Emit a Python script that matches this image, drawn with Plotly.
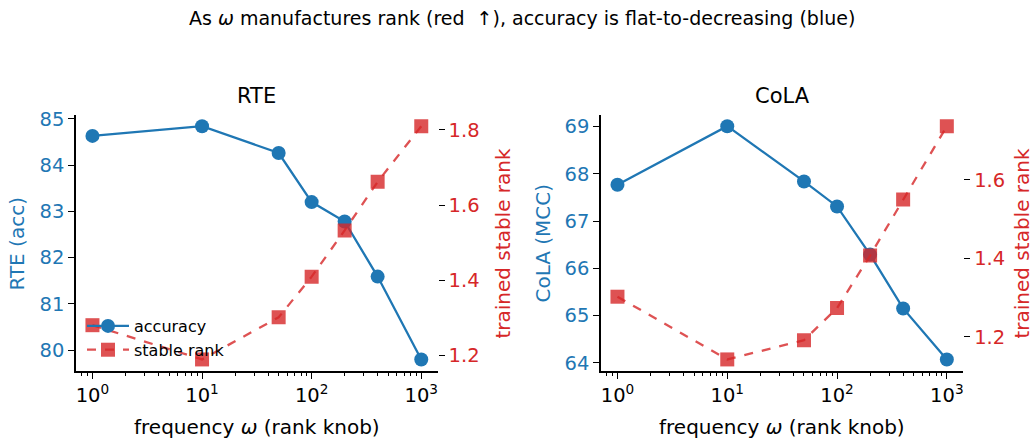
import plotly.graph_objects as go

freq = [1, 10, 50, 100, 200, 400, 1000]
rte_acc = [84.63, 84.84, 84.26, 83.20, 82.78, 81.59, 79.80]
rte_rank = [1.281, 1.190, 1.302, 1.410, 1.533, 1.662, 1.810]
cola_mcc = [67.77, 69.01, 67.84, 67.31, 66.29, 65.15, 64.07]
cola_rank = [1.302, 1.142, 1.191, 1.273, 1.407, 1.550, 1.737]

x_tickvals = [1, 10, 100, 1000]
x_ticktext = ["10<sup>0</sup>", "10<sup>1</sup>", "10<sup>2</sup>", "10<sup>3</sup>"]
rte_ticks = [80, 81, 82, 83, 84, 85]
cola_ticks = [64, 65, 66, 67, 68, 69]
rte_rank_ticks = [1.2, 1.4, 1.6, 1.8]
cola_rank_ticks = [1.2, 1.4, 1.6]

BLUE = "#1f77b4"
RED = "rgba(214,39,40,0.8)"
RED_TXT = "#d62728"
FONT = "DejaVu Sans"
W, H = 1035, 443
TICK = 19.5

def pad(vals, frac=0.05):
    lo, hi = min(vals), max(vals)
    d = (hi - lo) * frac
    return [lo - d, hi + d]

fig = go.Figure()

panels = [
    dict(acc=rte_acc, rank=rte_rank, xa="x", ya="y", ya2="y2", show=True),
    dict(acc=cola_mcc, rank=cola_rank, xa="x2", ya="y3", ya2="y4", show=False),
]
for p in panels:
    fig.add_trace(go.Scatter(x=freq, y=p["acc"], xaxis=p["xa"], yaxis=p["ya"],
                             mode="lines+markers", name="accuracy", showlegend=p["show"],
                             line=dict(color=BLUE, width=2.3),
                             marker=dict(symbol="circle", size=14, color=BLUE)))
    fig.add_trace(go.Scatter(x=freq, y=p["rank"], xaxis=p["xa"], yaxis=p["ya2"],
                             mode="lines+markers", name="stable rank", showlegend=p["show"],
                             line=dict(color=RED, width=2.3, dash="dash"),
                             marker=dict(symbol="square", size=14, color=RED)))

xd1 = [76 / W, 437.7 / W]
xd2 = [601 / W, 963.3 / W]
yd = [(H - 372.5) / H, (H - 110) / H]

def xaxis(domain, anchor):
    return dict(domain=domain, anchor=anchor, type="log", range=[-0.15, 3.15],
                tickvals=x_tickvals, ticktext=x_ticktext, ticks="outside", ticklen=6,
                tickwidth=1.2, tickcolor="black", showline=True, linecolor="black",
                linewidth=1.5, showgrid=False, zeroline=False,
                tickfont=dict(family=FONT, size=TICK, color="black"),
                minor=dict(ticks="outside", ticklen=3, tickwidth=0.8, tickcolor="black",
                           dtick="D1", showgrid=False))

def yleft(anchor, rng, ticks):
    return dict(domain=yd, anchor=anchor, range=rng, tickvals=ticks, ticks="outside",
                ticklen=6, tickwidth=1.2, tickcolor="black", showline=True,
                linecolor="black", linewidth=1.5, showgrid=False, zeroline=False,
                tickfont=dict(family=FONT, size=TICK, color=BLUE))

def yright(anchor, overlay, rng, ticks):
    return dict(anchor=anchor, overlaying=overlay, side="right", range=rng,
                tickvals=ticks, tickformat=".1f", ticks="outside", ticklen=6,
                tickwidth=1.2, tickcolor="black", showline=False, showgrid=False,
                zeroline=False, tickfont=dict(family=FONT, size=TICK, color=RED_TXT))

fig.update_layout(
    width=W, height=H,
    margin=dict(l=0, r=0, t=0, b=0),
    paper_bgcolor="white", plot_bgcolor="white",
    font=dict(family=FONT, color="black"),
    xaxis=xaxis(xd1, "y"),
    xaxis2=xaxis(xd2, "y3"),
    yaxis=yleft("x", pad(rte_acc), rte_ticks),
    yaxis2=yright("x", "y", pad(rte_rank), rte_rank_ticks),
    yaxis3=yleft("x2", pad(cola_mcc), cola_ticks),
    yaxis4=yright("x2", "y3", pad(cola_rank), cola_rank_ticks),
    legend=dict(x=82 / W, y=(H - 309) / H, xanchor="left", yanchor="top",
                bgcolor="rgba(0,0,0,0)", borderwidth=0,
                font=dict(family=FONT, size=16, color="black"),
                itemwidth=42, tracegroupgap=0),
    showlegend=True,
)

ann = [
    dict(text="As <i>ω</i> manufactures rank (red  ↑), accuracy is flat-to-decreasing (blue)",
         x=522 / W, y=(H - 11) / H, size=19, color="black", angle=0),
    dict(text="RTE", x=(76 + 437.7) / 2 / W, y=(H - 91) / H, size=21, color="black", angle=0),
    dict(text="CoLA", x=(601 + 963.3) / 2 / W, y=(H - 91) / H, size=21, color="black", angle=0),
    dict(text="frequency <i>ω</i> (rank knob)", x=(76 + 437.7) / 2 / W, y=(H - 430) / H,
         size=20, color="black", angle=0),
    dict(text="frequency <i>ω</i> (rank knob)", x=(601 + 963.3) / 2 / W, y=(H - 430) / H,
         size=20, color="black", angle=0),
    dict(text="RTE (acc)", x=17 / W, y=(H - 242) / H, size=20, color=BLUE, angle=-90),
    dict(text="trained stable rank", x=503 / W, y=(H - 242) / H, size=20, color=RED_TXT, angle=-90),
    dict(text="CoLA (MCC)", x=543 / W, y=(H - 242) / H, size=20, color=BLUE, angle=-90),
    dict(text="trained stable rank", x=1022 / W, y=(H - 242) / H, size=20, color=RED_TXT, angle=-90),
]
for a in ann:
    fig.add_annotation(text=a["text"], x=a["x"], y=a["y"], xref="paper", yref="paper",
                       xanchor="center", yanchor="middle", showarrow=False,
                       textangle=a["angle"],
                       font=dict(family=FONT, size=a["size"], color=a["color"]))

fig.write_html("out.html", config={"displayModeBar": False},
               post_script="document.body.style.margin='0px';document.body.style.padding='0px';")
